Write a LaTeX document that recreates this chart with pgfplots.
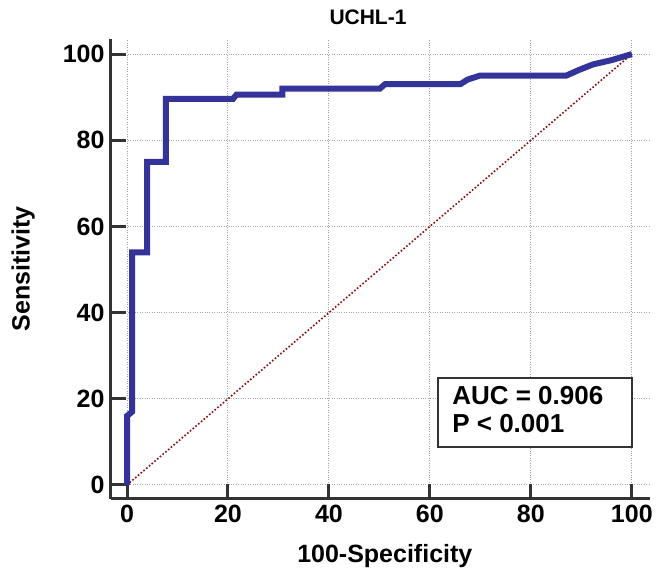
\documentclass[border=0pt]{standalone}
\usepackage{pgfplots}
\pgfplotsset{compat=1.18}
\usepackage{fontspec}
\setmainfont{Liberation Sans}
\definecolor{roc}{HTML}{333399}
\definecolor{axgray}{HTML}{333333}
\definecolor{diag}{HTML}{8B0A0A}
\begin{document}
\begin{tikzpicture}[x=1pt,y=1pt]
\path[use as bounding box] (0,0) rectangle (656,569);
\begin{axis}[
  at={(111pt,70pt)}, anchor=south west,
  scale only axis, width=539pt, height=460pt,
  xmin=-3.17, xmax=103.6, ymin=-3.25, ymax=103.5,
  axis lines=left,
  axis line style={-, color=axgray, line width=3pt},
  tick align=inside,
  major tick length=15pt,
  tick style={color=axgray, line width=3pt},
  xtick={0,20,40,60,80,100}, ytick={0,20,40,60,80,100},
  grid=major,
  grid style={dotted, color=gray!70, line width=1pt},
  /pgf/number format/assume math mode=true,
  ticklabel style={font=\fontsize{25}{28}\selectfont\bfseries},
  xticklabel style={yshift=-3pt},
  yticklabel style={xshift=-3pt},
  xlabel={100-Specificity},
  ylabel={Sensitivity},
  label style={font=\fontsize{25}{28}\selectfont\bfseries},
  xlabel style={at={(axis description cs:0.508,-0.137)}, anchor=base},
  ylabel style={at={(axis description cs:-0.163,0.5)}, anchor=center},
  clip=false,
]
\addplot[diag, dotted, line width=1.6pt] coordinates {(0,0) (100,100)};
\addplot[roc, line width=6pt, line join=miter] coordinates {
(0,0) (0,16) (1,17) (1,54) (4,54) (4,75) (7.7,75) (7.7,89.6) (21,89.6) (21.7,90.6)
(30.8,90.6) (30.8,92) (50.1,92) (51.1,93) (66,93) (67.5,94.1) (69.9,95) (87,95)
(89.5,96.3) (92.3,97.6) (96,98.6) (100,100)};
\draw[axgray, line width=2.5pt, fill=white] (axis cs:61.6,8.8) rectangle (axis cs:100,24.8);
\node[anchor=base west, inner sep=0pt, font=\fontsize{26}{30}\selectfont\bfseries] at (axis cs:64.4,18.6) {AUC = 0.906};
\node[anchor=base west, inner sep=0pt, font=\fontsize{26}{30}\selectfont\bfseries] at (axis cs:64.4,12.1) {P < 0.001};
\end{axis}
\node[font=\fontsize{21}{24}\selectfont\bfseries, anchor=base] at (368,544) {UCHL-1};
\end{tikzpicture}
\end{document}
